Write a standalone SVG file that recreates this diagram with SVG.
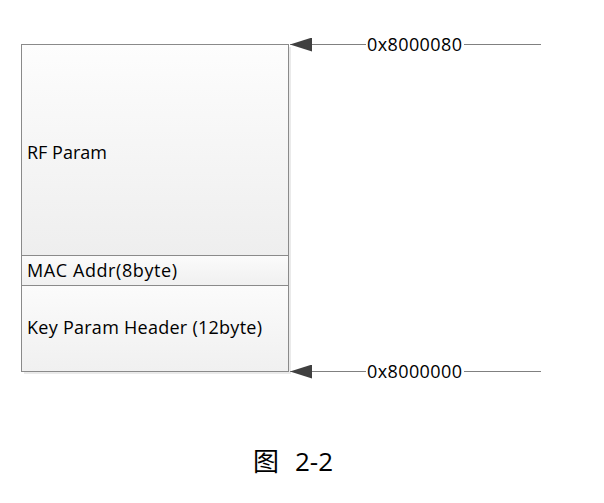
<svg xmlns="http://www.w3.org/2000/svg" width="604" height="503" viewBox="0 0 604 503">
<style>
.t{font-family:"Open Sans","Liberation Sans",sans-serif;font-size:18px;fill:#000}
.box{stroke:#8a8a8a;stroke-width:1}
.ln{stroke:#808080;stroke-width:1;fill:none}
</style>
<defs>
<linearGradient id="g" x1="0" y1="0" x2="0" y2="1">
<stop offset="0" stop-color="#fdfdfd"/><stop offset="1" stop-color="#eeeeee"/>
</linearGradient>
<linearGradient id="g2" x1="0" y1="0" x2="0" y2="1">
<stop offset="0" stop-color="#fbfbfb"/><stop offset="1" stop-color="#f0f0f0"/>
</linearGradient>
<marker id="a" viewBox="0 0 22 14" refX="22" refY="7" markerWidth="22" markerHeight="14" markerUnits="userSpaceOnUse" orient="auto">
<path d="M22,7 L0,0 L0,14 Z" fill="#404040"/>
</marker>
</defs>
<rect x="24" y="47" width="267" height="327" fill="#dcdcdc" opacity="0.6"/>
<g id="rf"><rect class="box" x="21.5" y="44.5" width="267" height="211" fill="url(#g)"/><text class="t" x="27" y="159" textLength="80">RF Param</text></g>
<g id="mac"><rect class="box" x="21.5" y="255.5" width="267" height="30" fill="url(#g2)"/><text class="t" x="27" y="277" textLength="150">MAC Addr(8byte)</text></g>
<g id="key"><rect class="box" x="21.5" y="285.5" width="267" height="86" fill="url(#g2)"/><text class="t" x="27" y="334" textLength="235">Key Param Header (12byte)</text></g>
<g id="connectors">
<line class="ln" x1="541" y1="44.5" x2="290" y2="44.5" marker-end="url(#a)"/>
<line class="ln" x1="541" y1="371.5" x2="290" y2="371.5" marker-end="url(#a)"/>
</g>
<g id="lbl1"><rect x="366" y="35" width="98" height="20" fill="#fff"/><text class="t" x="367" y="51" textLength="95">0x8000080</text></g>
<g id="lbl2"><rect x="366" y="362" width="98" height="20" fill="#fff"/><text class="t" x="367" y="378" textLength="95">0x8000000</text></g>
<text x="253" y="471" font-family="'Open Sans','Noto Sans CJK SC',sans-serif" font-size="26">图</text>
<text x="295" y="471" font-family="'Open Sans','Noto Sans CJK SC',sans-serif" font-size="26">2-2</text>
</svg>
